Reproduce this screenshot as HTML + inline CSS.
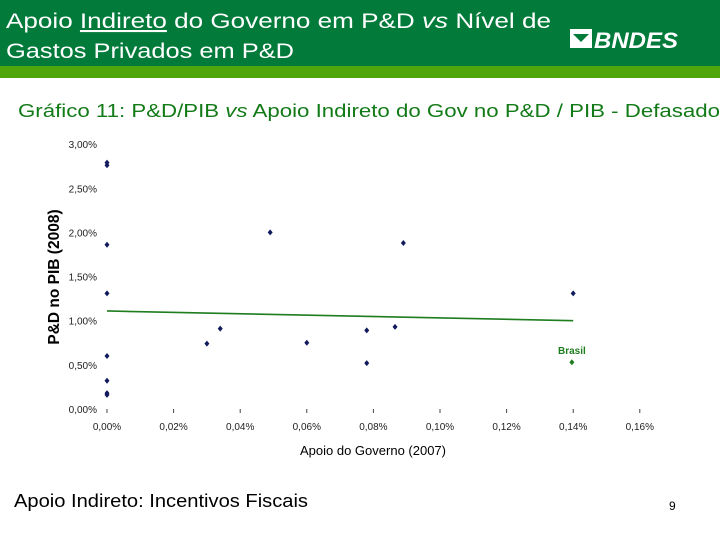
<!DOCTYPE html>
<html><head><meta charset="utf-8"><style>
html,body{margin:0;padding:0;background:#fff;}
svg{display:block;font-family:"Liberation Sans",sans-serif;}
</style></head><body>
<svg id="page" width="720" height="540" viewBox="0 0 720 540">
<rect x="0" y="0" width="720" height="66" fill="#017a3a"/>
<rect x="0" y="66" width="720" height="12" fill="#4ea60b"/>
<text x="6" y="28" fill="#fff" font-size="21" textLength="545" lengthAdjust="spacingAndGlyphs">Apoio <tspan text-decoration="underline">Indireto</tspan> do Governo em P&amp;D <tspan font-style="italic">vs</tspan> Nível de</text>
<text x="6" y="58" fill="#fff" font-size="21" textLength="288" lengthAdjust="spacingAndGlyphs">Gastos Privados em P&amp;D</text>
<g>
<rect x="570" y="29" width="22" height="19" fill="#fff"/>
<path d="M573 34 L581 42 L589 34 Z" fill="#017a3a"/>
<text x="594" y="48" fill="#fff" font-size="22" font-weight="bold" font-style="italic" textLength="84" lengthAdjust="spacingAndGlyphs">BNDES</text>
</g>
<text x="18" y="117" fill="#127a17" font-size="18" textLength="702" lengthAdjust="spacingAndGlyphs">Gráfico 11: P&amp;D/PIB <tspan font-style="italic">vs</tspan> Apoio Indireto do Gov no P&amp;D / PIB - Defasado</text>
<g id="chart"></g>
<text x="14" y="507" fill="#000" font-size="18" textLength="294" lengthAdjust="spacingAndGlyphs">Apoio Indireto: Incentivos Fiscais</text>
<text x="669" y="510" fill="#000" font-size="12">9</text>
</svg>
<script>
const xTicks=[0,0.02,0.04,0.06,0.08,0.10,0.12,0.14,0.16];
const yTicks=[0,0.5,1.0,1.5,2.0,2.5,3.0];
const xVals=[0,0,0,0,0,0,0,0,0.030,0.034,0.049,0.060,0.078,0.078,0.0865,0.089,0.140];
const yVals=[2.79,2.76,1.86,1.31,0.60,0.32,0.18,0.16,0.74,0.91,2.00,0.75,0.89,0.52,0.93,1.88,1.31];
const brasilX=[0.1396];
const brasilY=[0.53];
const trendX=[0,0.14];
const trendY=[1.11,1.00];
const NS="http://www.w3.org/2000/svg";
const g=document.getElementById('chart');
const sx=v=>107+v/0.02*66.6;
const sy=v=>409-v*88.3;
function mk(t,a,txt){const e=document.createElementNS(NS,t);for(const k in a)e.setAttribute(k,a[k]);if(txt!==undefined)e.textContent=txt;g.appendChild(e);return e;}
const fmt=(v,d)=>v.toFixed(d).replace('.',',')+'%';
yTicks.forEach(v=>{const e=mk('text',{x:97,y:sy(v)+4,'font-size':10,'text-anchor':'end',fill:'#222'},fmt(v,2));

});
xTicks.forEach(v=>{const e=mk('text',{x:sx(v),y:430,'font-size':10,'text-anchor':'middle',fill:'#222'},fmt(v,2));


const t=mk('line',{x1:sx(v),x2:sx(v),y1:409,y2:413,stroke:'#444','stroke-width':1});

});
const tl=mk('line',{x1:sx(trendX[0]),y1:sy(trendY[0]),x2:sx(trendX[1]),y2:sy(trendY[1]),stroke:'#1e7d1e','stroke-width':1.6});


function dia(x,y,c){return mk('path',{d:`M${x} ${y-3}L${x+2.5} ${y}L${x} ${y+3}L${x-2.5} ${y}Z`,fill:c});}
xVals.forEach((v,i)=>{const p=dia(sx(v),sy(yVals[i]),'#111a5c');

});
brasilX.forEach((v,i)=>{const p=dia(sx(v),sy(brasilY[i]),'#1e7d1e');


const l=mk('text',{x:sx(v),y:sy(brasilY[i])-8,'font-size':10,'font-weight':'bold','text-anchor':'middle',fill:'#1e7d1e'},'Brasil');

});
const xt=mk('text',{x:373,y:455,'font-size':13,'text-anchor':'middle',fill:'#000'},'Apoio do Governo (2007)');


const yt=mk('text',{x:0,y:0,'font-size':15.5,'font-weight':'bold','text-anchor':'middle',fill:'#000',transform:'translate(59,277) rotate(-90)'},'P&D no PIB (2008)');


</script>
</body></html>
